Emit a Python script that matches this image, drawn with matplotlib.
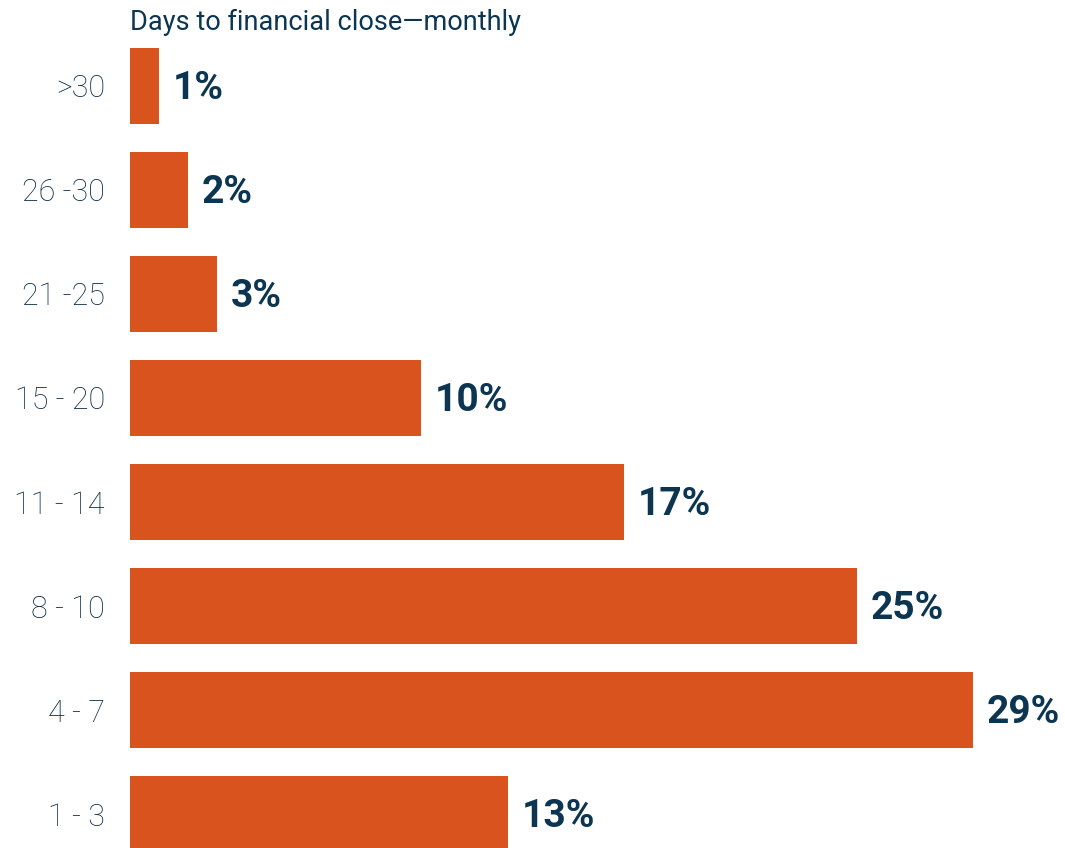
# Days to financial close - horizontal bar chart
import matplotlib.pyplot as plt

categories = ['>30', '26 -30', '21 -25', '15 - 20', '11 - 14', '8 - 10', '4 - 7', '1 - 3']
values = [1, 2, 3, 10, 17, 25, 29, 13]

bar_color = '#D9531E'
text_color = '#0B3550'

plt.rcParams['font.family'] = ['Roboto', 'DejaVu Sans']

W, H = 1065, 848
fig = plt.figure(figsize=(W / 100, H / 100), dpi=100)

px_per_unit = (973 - 130) / 29
xmax = 31
ax = fig.add_axes([130 / W, 0, xmax * px_per_unit / W, 1])

n = len(categories)
pos = [n - 1 - i for i in range(n)]
ax.barh(pos, values, height=76 / 104, color=bar_color)

for p, v in zip(pos, values):
    ax.annotate(f'{v}%', (v, p), xytext=(10, -2), textcoords='offset points',
                va='center', ha='left', fontsize=28, fontweight='bold',
                color=text_color)

ax.set_xlim(0, xmax)
ax.set_ylim(-34 / 104, 814 / 104)
ax.set_yticks(pos)
ax.set_yticklabels(categories, fontsize=22, fontweight='light', color='#062A42')
ax.tick_params(axis='y', length=0, pad=18)
ax.set_xticks([])
for s in ax.spines.values():
    s.set_visible(False)

fig.text(130 / W, 1 - 22 / H, 'Days to financial close\u2014monthly',
         fontsize=19.5, color=text_color, va='center', ha='left')

plt.savefig('out.png', dpi=100)
plt.close(fig)
